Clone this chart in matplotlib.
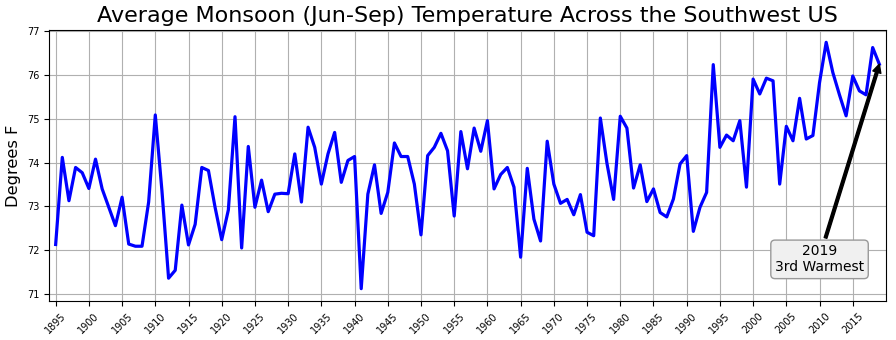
import numpy as np
import matplotlib
matplotlib.use('Agg')
import matplotlib.pyplot as plt

# Jun-Sep mean temperature (deg F)
years = np.arange(1895, 2020)
temps = [
    72.13, 74.12, 73.13, 73.89, 73.77, 73.41, 74.08, 73.40, 72.98, 72.56,  # 1895-1904
    73.21, 72.14, 72.09, 72.09, 73.10, 75.09, 73.36, 71.36, 71.54, 73.03,  # 1905-1914
    72.12, 72.59, 73.89, 73.82, 72.98, 72.24, 72.92, 75.05, 72.05, 74.37,  # 1915-1924
    72.98, 73.60, 72.88, 73.28, 73.30, 73.29, 74.20, 73.10, 74.81, 74.35,  # 1925-1934
    73.51, 74.20, 74.69, 73.55, 74.05, 74.14, 71.12, 73.28, 73.95, 72.84,  # 1935-1944
    73.32, 74.45, 74.14, 74.14, 73.51, 72.35, 74.16, 74.35, 74.67, 74.27,  # 1945-1954
    72.78, 74.71, 73.86, 74.79, 74.26, 74.96, 73.40, 73.73, 73.89, 73.44,  # 1955-1964
    71.84, 73.87, 72.71, 72.21, 74.49, 73.51, 73.07, 73.16, 72.81, 73.27,  # 1965-1974
    72.41, 72.33, 75.02, 73.98, 73.16, 75.06, 74.79, 73.42, 73.95, 73.11,  # 1975-1984
    73.40, 72.86, 72.76, 73.17, 73.97, 74.16, 72.43, 72.98, 73.32, 76.24,  # 1985-1994
    74.35, 74.63, 74.50, 74.96, 73.44, 75.91, 75.57, 75.93, 75.87, 73.51,  # 1995-2004
    74.83, 74.50, 75.47, 74.54, 74.62, 75.83, 76.75, 76.06, 75.55, 75.07,  # 2005-2014
    75.98, 75.64, 75.55, 76.63, 76.25,                                      # 2015-2019
]
tick_years = np.arange(1895, 2020, 5)

fig = plt.figure(figsize=(8.96, 3.4), dpi=100)
ax = fig.add_axes([0.0547, 0.1147, 0.9341, 0.7971])

ax.plot(years, temps, color='blue', lw=2.3)
ax.grid(True, color='#b0b0b0', lw=0.8)
ax.set_axisbelow(True)

ax.set_xlim(1894, 2020)
ax.set_xticks(tick_years)
ax.set_xticklabels(tick_years, rotation=45, fontsize=7)
ax.tick_params(axis='y', labelsize=7)
ax.set_ylabel('Degrees F', fontsize=11.7)
ax.set_title('Average Monsoon (Jun-Sep) Temperature Across the Southwest US', fontsize=16)

# arrow runs from the top of the label box to the 2019 point
ax.annotate('', xy=(years[-1], temps[-1]), xytext=(2010.9, 72.28),
            arrowprops=dict(facecolor='black', width=2, headwidth=6, headlength=6))
ax.text(2010, 71.79, '2019\n3rd Warmest', ha='center', va='center', fontsize=10,
        multialignment='center',
        bbox=dict(boxstyle='round', fc='#f0f0f0', ec='#999999'))

fig.savefig('out.png', dpi=100)
